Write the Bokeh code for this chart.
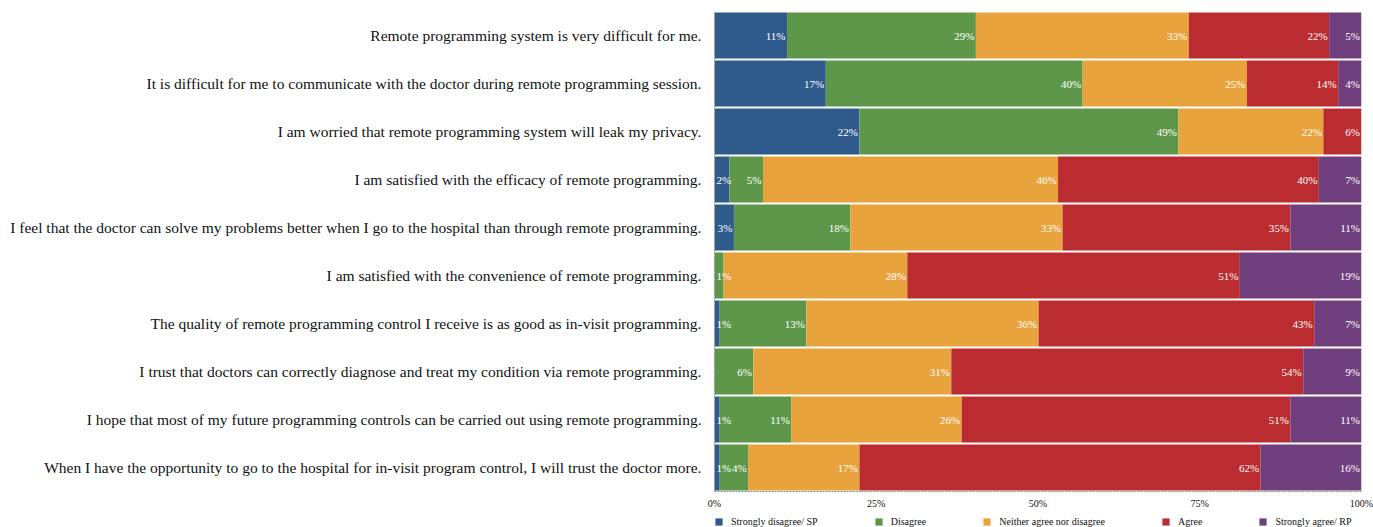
from bokeh.plotting import figure
from bokeh.layouts import column
from bokeh.models import ColumnDataSource, FactorRange, Range1d, FixedTicker, PrintfTickFormatter, Legend, LegendItem
from bokeh.core.properties import value
from bokeh.embed import file_html
from bokeh.resources import INLINE

categories = [
    "Remote programming system is very difficult for me.",
    "It is difficult for me to communicate with the doctor during remote programming session.",
    "I am worried that remote programming system will leak my privacy.",
    "I am satisfied with the efficacy of remote programming.",
    "I feel that the doctor can solve my problems better when I go to the hospital than through remote programming.",
    "I am satisfied with the convenience of remote programming.",
    "The quality of remote programming control I receive is as good as in-visit programming.",
    "I trust that doctors can correctly diagnose and treat my condition via remote programming.",
    "I hope that most of my future programming controls can be carried out using remote programming.",
    "When I have the opportunity to go to the hospital for in-visit program control, I will trust the doctor more.",
]

series_names = ["Strongly disagree/ SP", "Disagree", "Neither agree nor disagree", "Agree", "Strongly agree/ RP"]

strongly_disagree = [11.2, 17.2, 22.4, 2.3, 3.0, 0.0, 0.8, 0.0, 0.8, 0.8]
disagree = [29.2, 39.7, 49.3, 5.2, 18.0, 1.4, 13.4, 6.0, 11.1, 4.4]
neutral = [32.9, 25.4, 22.4, 45.6, 32.8, 28.4, 35.9, 30.6, 26.3, 17.2]
agree = [21.7, 14.1, 5.9, 40.3, 35.2, 51.4, 42.6, 54.4, 50.8, 62.0]
strongly_agree = [5.0, 3.6, 0.0, 6.6, 11.0, 18.8, 7.3, 9.0, 11.0, 15.6]

x_ticks = [0, 25, 50, 75, 100]

colors = ["#2e5a8c", "#5e9749", "#e8a33d", "#bb2c31", "#6f3e7c"]
keys = ["sd", "dis", "neu", "agr", "sa"]
series = [strongly_disagree, disagree, neutral, agree, strongly_agree]

FONT = "Liberation Serif"

data = {"cat": categories}
for k, s in zip(keys, series):
    data[k] = s
source = ColumnDataSource(data)

p = figure(
    width=1373, height=511,
    y_range=FactorRange(*reversed(categories)),
    x_range=Range1d(0, 100),
    output_backend="svg", toolbar_location=None,
    min_border_left=714, min_border_right=12, min_border_top=11, min_border_bottom=20,
)

renderers = p.hbar_stack(keys, y="cat", height=0.955, color=colors, source=source, line_color=None)

# segment labels: right-aligned at segment end; very short first segments pinned to the left edge
rx, ry, rt = [], [], []
lx, ly, lt = [], [], []
for i, cat in enumerate(categories):
    cum = 0.0
    for s in series:
        v = s[i]
        cum += v
        if v > 0:
            txt = f"{round(v)}%"
            if cum < 2.6:
                lx.append(0)
                ly.append(cat)
                lt.append(txt)
            else:
                rx.append(cum)
                ry.append(cat)
                rt.append(txt)
p.text(x="x", y="y", text="t", source=ColumnDataSource(dict(x=rx, y=ry, t=rt)),
       text_align="right", text_baseline="middle", x_offset=-1.5,
       text_color="white", text_font=value(FONT), text_font_size="11px")
p.text(x="x", y="y", text="t", source=ColumnDataSource(dict(x=lx, y=ly, t=lt)),
       text_align="left", text_baseline="middle", x_offset=2,
       text_color="white", text_font=value(FONT), text_font_size="11px")

p.xgrid.visible = False
p.ygrid.visible = False
p.outline_line_color = None

p.xaxis.ticker = FixedTicker(ticks=x_ticks)
p.xaxis.formatter = PrintfTickFormatter(format="%d%%")
p.xaxis.major_tick_out = 0
p.xaxis.major_tick_in = 0
p.xaxis.minor_tick_out = 0
p.xaxis.minor_tick_in = 0
p.xaxis.major_label_standoff = 6
p.xaxis.major_label_text_font = FONT
p.xaxis.major_label_text_font_size = "10px"
p.xaxis.major_label_text_color = "#111111"
p.xaxis.axis_line_color = "#888888"
p.xaxis.axis_line_dash = "2 1"

p.yaxis.major_tick_out = 0
p.yaxis.major_tick_in = 0
p.yaxis.major_label_standoff = 13
p.yaxis.major_label_text_font = FONT
p.yaxis.major_label_text_font_size = "15.5px"
p.yaxis.major_label_text_color = "#111111"
p.yaxis.axis_line_color = "#888888"
p.yaxis.axis_line_dash = "2 1"

# legend strip under the chart (zero-width proxy bars carry the legend swatches)
p2 = figure(
    width=1373, height=16, x_range=Range1d(0, 100), y_range=Range1d(0, 1),
    output_backend="svg", toolbar_location=None, x_axis_type=None, y_axis_type=None,
    min_border_left=714, min_border_right=12, min_border_top=0, min_border_bottom=0,
)
p2.xgrid.visible = False
p2.ygrid.visible = False
p2.outline_line_color = None
proxy = ColumnDataSource(dict(y=[0], left=[0], right=[0]))
key_renderers = [p2.hbar(y="y", left="left", right="right", height=0, source=proxy,
                         fill_color=c, line_color=None) for c in colors]
items = [LegendItem(label=n, renderers=[r]) for n, r in zip(series_names, key_renderers)]
legend = Legend(items=items, orientation="horizontal", location=(0, 0),
                glyph_width=9, glyph_height=9, label_standoff=8, spacing=56,
                padding=0, margin=0, border_line_color=None, background_fill_alpha=0,
                label_text_font=FONT, label_text_font_size="10px", label_text_color="#111111",
                label_height=12)
p2.add_layout(legend, "center")

layout = column(p, p2, spacing=0)
open("out.html", "w").write(file_html(layout, INLINE))
